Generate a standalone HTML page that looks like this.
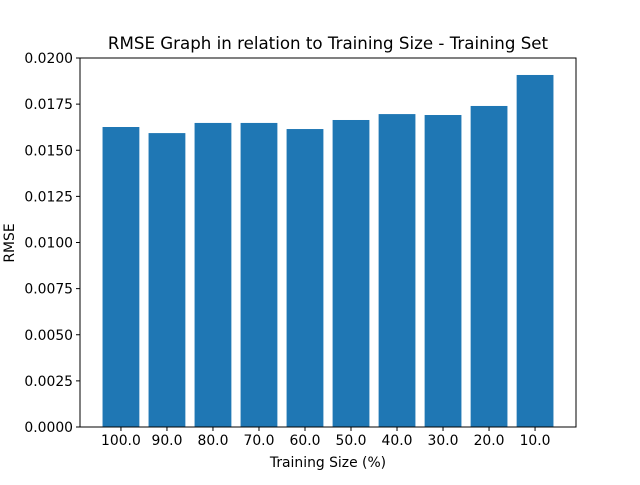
<!DOCTYPE html>
<html><head><meta charset="utf-8"><style>
body{margin:0;background:#fff}
text{font-family:"DejaVu Sans","Liberation Sans",sans-serif;fill:#000}
</style></head><body>
<svg id="chart" width="640" height="480" xmlns="http://www.w3.org/2000/svg">
<rect width="640" height="480" fill="#fff"/>
<text x="328" y="49" font-size="16.67" text-anchor="middle">RMSE Graph in relation to Training Size - Training Set</text>
<g id="bars"></g>
<g id="xt"></g>
<g id="yt"></g>
<rect x="80" y="58" width="496" height="369" fill="none" stroke="#000" stroke-width="1"/>
<text x="328" y="467" font-size="13.9" text-anchor="middle">Training Size (%)</text>
<text transform="translate(14,243) rotate(-90)" font-size="13.9" text-anchor="middle">RMSE</text>
</svg>
<script>
const categories=["100.0","90.0","80.0","70.0","60.0","50.0","40.0","30.0","20.0","10.0"];
const rmseValues=[0.01626,0.01593,0.01648,0.01648,0.01615,0.01664,0.01696,0.01691,0.0174,0.01908];
const yTicks=[0,0.0025,0.005,0.0075,0.01,0.0125,0.015,0.0175,0.02];
const yTickLabels=["0.0000","0.0025","0.0050","0.0075","0.0100","0.0125","0.0150","0.0175","0.0200"];
const NS="http://www.w3.org/2000/svg";
const L=80,R=576,T=58,B=427,ymax=0.02;
const xmin=-0.89,xmax=categories.length-1+0.89;
const xs=v=>L+(v-xmin)/(xmax-xmin)*(R-L);
const ys=v=>B-v/ymax*(B-T);
const bars=document.getElementById('bars'),xt=document.getElementById('xt'),yt=document.getElementById('yt');
function mk(t,a){const e=document.createElementNS(NS,t);for(const k in a)e.setAttribute(k,a[k]);return e;}
categories.forEach((c,i)=>{
 const x0=xs(i-0.4),x1=xs(i+0.4),y=ys(rmseValues[i]);
 const r=mk('rect',{x:x0,y:y,width:x1-x0,height:B-y,fill:'#1f77b4'});
 
 
 bars.appendChild(r);
 const tk=mk('line',{x1:xs(i),x2:xs(i),y1:B,y2:B+4,stroke:'#000'});
 
 
 xt.appendChild(tk);
 const t=mk('text',{x:xs(i),y:B+18,'font-size':13.9,'text-anchor':'middle'});
 t.textContent=c;
 
 
 xt.appendChild(t);
});
yTicks.forEach((v,i)=>{
 const tk=mk('line',{x1:L-4,x2:L,y1:ys(v),y2:ys(v),stroke:'#000'});
 
 
 yt.appendChild(tk);
 const t=mk('text',{x:L-7,y:ys(v)+5,'font-size':13.9,'text-anchor':'end'});
 t.textContent=yTickLabels[i];
 
 
 yt.appendChild(t);
});
</script>
</body></html>
